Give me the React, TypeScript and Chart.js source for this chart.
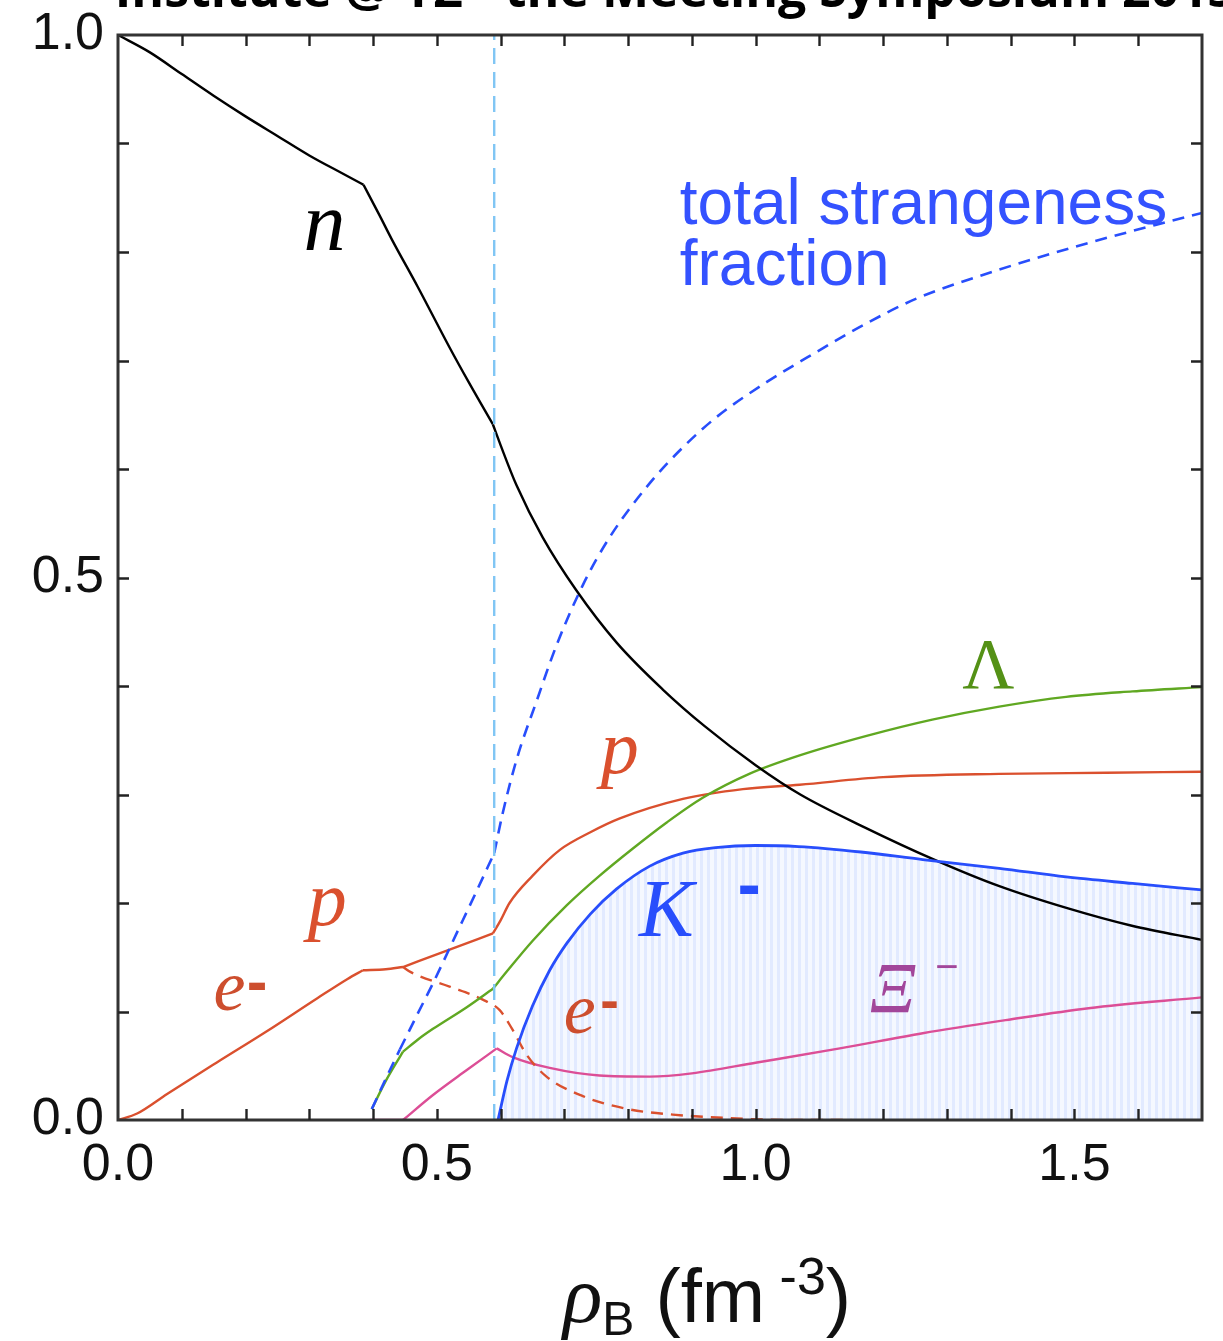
import React, { useEffect, useRef } from 'react';
import { Chart, registerables } from 'chart.js';

Chart.register(...registerables);

// ---------- data ----------
const xTickLabels = ['0.0', '0.5', '1.0', '1.5'];
const yTickLabels = ['0.0', '0.5', '1.0'];

const neutron: [number, number][] = [
  [0, 1.0], [0.05, 0.984], [0.1, 0.964], [0.15, 0.944], [0.2, 0.925], [0.25, 0.907],
  [0.3, 0.889], [0.35, 0.873], [0.385, 0.862], [0.41, 0.834], [0.43, 0.811], [0.47, 0.768],
  [0.52, 0.712], [0.55, 0.68], [0.588, 0.641], [0.6, 0.622], [0.625, 0.585], [0.666, 0.537],
  [0.719, 0.488], [0.782, 0.44], [0.854, 0.397], [0.92, 0.363], [1.0, 0.327], [1.07, 0.3],
  [1.17, 0.27], [1.28, 0.24], [1.38, 0.216], [1.49, 0.195], [1.59, 0.179], [1.7, 0.166],
];

const strangeness: [number, number][] = [
  [0.398, 0.01], [0.42, 0.038], [0.442, 0.065], [0.47, 0.098], [0.494, 0.126], [0.531, 0.172],
  [0.56, 0.208], [0.59, 0.246], [0.603, 0.282], [0.625, 0.332], [0.657, 0.387], [0.688, 0.438],
  [0.729, 0.493], [0.771, 0.537], [0.834, 0.587], [0.886, 0.62], [0.939, 0.648], [1.017, 0.68],
  [1.096, 0.708], [1.17, 0.733], [1.252, 0.757], [1.378, 0.783], [1.502, 0.805], [1.627, 0.825],
  [1.7, 0.836],
];

const lambda: [number, number][] = [
  [0.398, 0.01], [0.42, 0.036], [0.447, 0.063], [0.47, 0.074], [0.494, 0.084], [0.547, 0.104],
  [0.588, 0.121], [0.61, 0.137], [0.65, 0.165], [0.704, 0.198], [0.755, 0.225], [0.807, 0.25],
  [0.86, 0.274], [0.917, 0.297], [0.99, 0.319], [1.069, 0.336], [1.174, 0.354], [1.277, 0.369],
  [1.382, 0.381], [1.487, 0.39], [1.591, 0.395], [1.7, 0.399],
];

const proton: [number, number][] = [
  [0, 0], [0.03, 0.006], [0.077, 0.024], [0.155, 0.053], [0.234, 0.082], [0.312, 0.112],
  [0.36, 0.13], [0.384, 0.138], [0.42, 0.139], [0.447, 0.141], [0.52, 0.157], [0.588, 0.172],
  [0.6, 0.184], [0.614, 0.2], [0.65, 0.225], [0.693, 0.249], [0.74, 0.265], [0.787, 0.278],
  [0.886, 0.296], [0.98, 0.305], [1.069, 0.309], [1.2, 0.316], [1.382, 0.319], [1.55, 0.32],
  [1.7, 0.321],
];

const electron: [number, number][] = [
  [0.447, 0.141], [0.46, 0.136], [0.52, 0.123], [0.572, 0.111], [0.599, 0.101], [0.619, 0.083],
  [0.641, 0.06], [0.672, 0.04], [0.729, 0.022], [0.8, 0.01], [0.87, 0.005], [0.95, 0.002],
  [1.05, 0.0], [1.15, 0.0],
];

const xi: [number, number][] = [
  [0.395, 0.0], [0.447, 0.0], [0.494, 0.023], [0.547, 0.046], [0.594, 0.066], [0.619, 0.058],
  [0.677, 0.048], [0.755, 0.041], [0.834, 0.04], [0.9, 0.043], [1.002, 0.053], [1.132, 0.066],
  [1.262, 0.08], [1.392, 0.092], [1.522, 0.103], [1.7, 0.113],
];

const kaon: [number, number][] = [
  [0.596, 0.0], [0.61, 0.036], [0.625, 0.066], [0.65, 0.105], [0.677, 0.138], [0.704, 0.163],
  [0.741, 0.19], [0.782, 0.213], [0.834, 0.234], [0.886, 0.246], [0.937, 0.251], [1.0, 0.253],
  [1.067, 0.252], [1.165, 0.247], [1.262, 0.24], [1.382, 0.232], [1.487, 0.224], [1.591, 0.218],
  [1.7, 0.212],
];

const onsetLine: [number, number][] = [[0.59, 0.0], [0.59, 1.0]];

// x positions of the kinks in the curves (thresholds)
const kinks = [0.385, 0.447, 0.59];

// ---------- styles ----------
const RED = 'rgb(218,80,46)';
const GREEN = 'rgb(96,168,34)';
const BLUE = 'rgb(40,78,252)';
const MAGENTA = 'rgb(220,78,150)';
const SERIF = '"Liberation Serif", "DejaVu Serif", serif';
const SANS = '"Liberation Sans", Arial, sans-serif';

const toXY = (a: [number, number][]) => a.map(([x, y]) => ({ x, y }));

// split a series at kink positions so that corners stay sharp
function splitAtKinks(a: [number, number][]): [number, number][][] {
  const out: [number, number][][] = [];
  let cur: [number, number][] = [];
  a.forEach((p, i) => {
    cur.push(p);
    const isKink = i > 0 && i < a.length - 1 && kinks.some((k) => Math.abs(p[0] - k) <= 0.006);
    if (isKink) {
      out.push(cur);
      cur = [p];
    }
  });
  if (cur.length > 1) out.push(cur);
  return out;
}

function tickLabel(v: number, labels: string[]) {
  const s = (Math.round(v * 10) / 10).toFixed(1);
  return labels.includes(s) && Math.abs(v * 10 - Math.round(v * 10)) < 1e-6 ? s : '';
}

function makePattern(): CanvasPattern | string {
  const c = document.createElement('canvas');
  c.width = 7;
  c.height = 1;
  const g = c.getContext('2d');
  if (!g) return 'rgba(225,233,255,0.6)';
  g.fillStyle = 'rgb(226,234,255)';
  g.fillRect(0, 0, 3, 1);
  g.fillStyle = 'rgb(245,248,255)';
  g.fillRect(3, 0, 4, 1);
  return g.createPattern(c, 'repeat') || 'rgba(225,233,255,0.6)';
}

const decor = {
  id: 'decor',
  afterDraw(chart: any) {
    const { ctx, chartArea: a, scales } = chart;
    const x = scales.x;
    const y = scales.y;
    const X = (v: number) => x.getPixelForValue(v);
    const Y = (v: number) => y.getPixelForValue(v);
    ctx.save();

    // frame
    ctx.strokeStyle = '#333';
    ctx.lineWidth = 3;
    ctx.strokeRect(a.left, a.top, a.right - a.left, a.bottom - a.top);

    // inward ticks on all four sides
    ctx.lineWidth = 2.4;
    ctx.strokeStyle = '#222';
    x.ticks.forEach((t: any) => {
      const v = t.value;
      if (v < 1e-6 || v > 1.7 - 1e-6) return;
      const px = Math.round(X(v)) + 0.5;
      ctx.beginPath();
      ctx.moveTo(px, a.bottom);
      ctx.lineTo(px, a.bottom - 11);
      ctx.moveTo(px, a.top);
      ctx.lineTo(px, a.top + 11);
      ctx.stroke();
    });
    y.ticks.forEach((t: any) => {
      const v = t.value;
      if (v < 1e-6 || v > 1 - 1e-6) return;
      const py = Math.round(Y(v)) + 0.5;
      ctx.beginPath();
      ctx.moveTo(a.left, py);
      ctx.lineTo(a.left + 11, py);
      ctx.moveTo(a.right, py);
      ctx.lineTo(a.right - 11, py);
      ctx.stroke();
    });

    const txt = (s: string, px: number, py: number, font: string, color: string, align: CanvasTextAlign = 'center') => {
      ctx.font = font;
      ctx.fillStyle = color;
      ctx.textAlign = align;
      ctx.textBaseline = 'alphabetic';
      ctx.fillText(s, px, py);
    };
    const dash = (cx: number, cy: number, color: string, size: number) => {
      txt('-', cx, cy + 0.27 * size, `bold ${size}px ${SANS}`, color, 'center');
    };

    // curve labels
    const E_COL = 'rgb(205,78,46)';
    txt('n', X(0.324), Y(0.802), `italic 84px ${SERIF}`, '#000');
    txt('total strangeness', X(0.881), Y(0.826), `64px ${SANS}`, 'rgb(52,82,255)', 'left');
    txt('fraction', X(0.881), Y(0.77), `64px ${SANS}`, 'rgb(52,82,255)', 'left');
    txt('Λ', X(1.365), Y(0.398), `72px ${SERIF}`, 'rgb(84,145,22)');
    txt('p', X(0.787), Y(0.32), `italic 76px ${SERIF}`, RED);
    txt('p', X(0.328), Y(0.18), `italic 78px ${SERIF}`, RED);
    txt('e', X(0.175), Y(0.101), `italic 72px ${SERIF}`, E_COL);
    dash(X(0.218), Y(0.124), E_COL, 62);
    txt('e', X(0.724), Y(0.08), `italic 72px ${SERIF}`, E_COL);
    dash(X(0.771), Y(0.107), E_COL, 56);
    txt('K', X(0.817), Y(0.17), `italic 82px ${SERIF}`, BLUE, 'left');
    dash(X(0.99), Y(0.213), BLUE, 70);
    txt('Ξ', X(1.215), Y(0.1), `italic 72px ${SERIF}`, 'rgb(162,70,154)');
    txt('−', X(1.3), Y(0.14) + 12, `40px ${SANS}`, 'rgb(162,70,154)');

    // x-axis title: ρ_B (fm^-3)
    const base = 1322;
    const parts: { s: string; font: string; dy: number }[] = [
      { s: 'ρ', font: `italic 82px ${SERIF}`, dy: 0 },
      { s: 'B', font: `48px ${SANS}`, dy: 13 },
      { s: ' (fm', font: `76px ${SANS}`, dy: 0 },
      { s: ' -3', font: `52px ${SANS}`, dy: -28 },
      { s: ')', font: `76px ${SANS}`, dy: 0 },
    ];
    let total = 0;
    parts.forEach((p) => { ctx.font = p.font; total += ctx.measureText(p.s).width; });
    let cx = 707 - total / 2;
    parts.forEach((p) => {
      ctx.font = p.font;
      ctx.fillStyle = '#111';
      ctx.textAlign = 'left';
      ctx.fillText(p.s, cx, base + p.dy);
      cx += ctx.measureText(p.s).width;
    });

    // cut-off page title at the very top
    ctx.font = `bold 50px "Open Sans", ${SANS}`;
    ctx.fillStyle = '#000';
    ctx.textAlign = 'left';
    const head = 'Institute @ YZ - the Meeting Symposium 2013';
    const pre = ctx.measureText('Institute @ YZ - the Meetin').width;
    ctx.fillText(head, 778 - pre, 7);

    ctx.restore();
  },
};

export default function App() {
  const ref = useRef<HTMLCanvasElement | null>(null);

  useEffect(() => {
    const canvas = ref.current;
    if (!canvas) return;
    const hatch = makePattern();
    const base = { pointRadius: 0, pointHoverRadius: 0, fill: false, cubicInterpolationMode: 'monotone' as const };
    const series = (arr: [number, number][], style: any) =>
      splitAtKinks(arr).map((seg) => ({ ...base, ...style, data: toXY(seg) }));

    const chart = new Chart(canvas, {
      type: 'line',
      data: {
        datasets: [
          { ...base, label: 'K-', data: toXY(kaon), borderColor: BLUE, borderWidth: 2.8, fill: 'origin', backgroundColor: hatch as any },
          { ...base, label: 'onset', data: toXY(onsetLine), borderColor: 'rgb(128,198,244)', borderWidth: 2.4, borderDash: [16, 8], cubicInterpolationMode: 'default', tension: 0 },
          ...series(neutron, { label: 'n', borderColor: '#000', borderWidth: 2.4 }),
          ...series(strangeness, { label: 'strangeness', borderColor: BLUE, borderWidth: 2.6, borderDash: [12, 8] }),
          ...series(lambda, { label: 'Lambda', borderColor: GREEN, borderWidth: 2.4 }),
          ...series(proton, { label: 'p', borderColor: RED, borderWidth: 2.4 }),
          ...series(electron, { label: 'e-', borderColor: RED, borderWidth: 2.4, borderDash: [12, 8] }),
          ...series(xi, { label: 'Xi-', borderColor: MAGENTA, borderWidth: 2.4 }),
        ],
      },
      options: {
        responsive: false,
        animation: false,
        events: [],
        layout: { padding: { left: 0, right: 21, top: 35, bottom: 0 } },
        plugins: {
          legend: { display: false },
          tooltip: { enabled: false },
          filler: { drawTime: 'beforeDatasetsDraw' } as any,
        },
        scales: {
          x: {
            type: 'linear',
            min: 0,
            max: 1.7,
            grid: { drawOnChartArea: false, drawTicks: false, display: false },
            border: { display: false },
            ticks: {
              stepSize: 0.1,
              autoSkip: false,
              maxRotation: 0,
              padding: 14,
              color: '#111',
              font: { family: SANS, size: 52 },
              callback: (v: any) => tickLabel(Number(v), xTickLabels),
            },
            afterFit: (s: any) => { s.height = 221; s.paddingLeft = 0; s.paddingRight = 0; },
          },
          y: {
            type: 'linear',
            min: 0,
            max: 1,
            grid: { drawOnChartArea: false, drawTicks: false, display: false },
            border: { display: false },
            ticks: {
              stepSize: 0.1,
              autoSkip: false,
              padding: 14,
              color: '#111',
              font: { family: SANS, size: 52 },
              callback: (v: any) => tickLabel(Number(v), yTickLabels),
            },
            afterFit: (s: any) => { s.width = 118; s.paddingTop = 0; s.paddingBottom = 0; },
          },
        },
      },
      plugins: [decor],
    });
    return () => chart.destroy();
  }, []);

  return (
    <canvas
      ref={ref}
      width={1223}
      height={1341}
      style={{ position: 'absolute', left: 0, top: 0, display: 'block', width: 1223, height: 1341 }}
    />
  );
}
